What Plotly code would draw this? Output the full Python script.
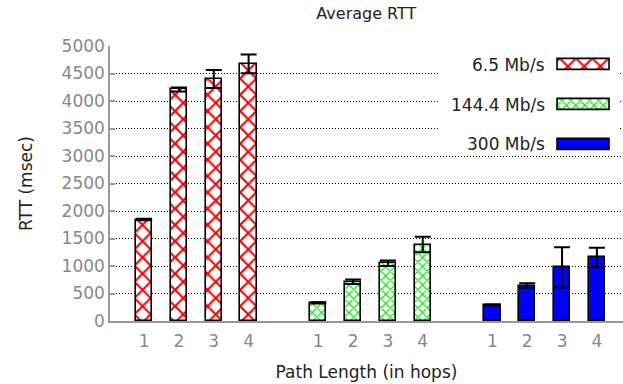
import plotly.graph_objects as go

hops = [1, 2, 3, 4]
rates = ["6.5 Mb/s", "144.4 Mb/s", "300 Mb/s"]
red_mean = [1845, 4210, 4400, 4675]
red_err = [15, 35, 165, 170]
green_mean = [330, 715, 1050, 1390]
green_err = [10, 40, 50, 140]
blue_mean = [290, 645, 975, 1155]
blue_err = [10, 40, 365, 177]
y_ticks = [0, 500, 1000, 1500, 2000, 2500, 3000, 3500, 4000, 4500, 5000]

means = [red_mean, green_mean, blue_mean]
errs = [red_err, green_err, blue_err]
styles = [
    dict(color="white", pattern=dict(shape="x", fgcolor="#ff0000", bgcolor="white", fgopacity=1,
                                     fillmode="replace", size=11.5, solidity=0.33)),
    dict(color="white", pattern=dict(shape="x", fgcolor="#00ee00", bgcolor="white", fgopacity=1,
                                     fillmode="replace", size=6.5, solidity=0.32)),
    dict(color="#0000ff"),
]

FONT = "DejaVu Sans"
fig = go.Figure()
tickvals, ticktext = [], []

# white key box (in the key's own subplot, so it covers the main grid)
fig.add_shape(type="rect", xref="x2 domain", yref="y2 domain", x0=0, x1=1, y0=0, y1=1,
              fillcolor="white", line=dict(width=0), layer="below")

for g in range(3):
    xs = [g * 5 + (h - 1) for h in hops]
    tickvals += xs
    ticktext += [str(h) for h in hops]
    fig.add_trace(go.Bar(
        x=xs, y=means[g], width=0.47,
        marker=dict(**styles[g], line=dict(color="black", width=1.6)),
        error_y=dict(type="data", array=errs[g], visible=True, color="black", thickness=2, width=8),
        showlegend=False, xaxis="x", yaxis="y",
    ))
    # key swatch (drawn on an auxiliary axis so the pattern fill shows)
    fig.add_trace(go.Bar(
        x=[1], y=[2 - g], base=[0], orientation="h", width=0.28,
        marker=dict(**styles[g], line=dict(color="black", width=1.6)),
        showlegend=False, xaxis="x2", yaxis="y2", hoverinfo="skip",
    ))
    fig.add_annotation(
        x=-0.2, xref="x2", y=2 - g, yref="y2", text=rates[g], showarrow=False,
        xanchor="right", yanchor="middle", font=dict(family=FONT, size=17, color="#222222"),
    )

fig.update_layout(
    width=623, height=384,
    margin=dict(l=110, r=0, t=46, b=63),
    paper_bgcolor="white", plot_bgcolor="white",
    font=dict(family=FONT, size=17, color="#222222"),
    title=dict(text="Average RTT", x=0.588, xanchor="center", y=0.966, yanchor="middle",
               font=dict(family=FONT, size=16, color="#222222")),
    bargap=0,
    xaxis=dict(
        range=[-0.98, 13.75], tickmode="array", tickvals=tickvals, ticktext=ticktext,
        showgrid=False, zeroline=False, showline=True, linecolor="#999999", linewidth=1.5,
        ticks="", ticklabelstandoff=4, tickfont=dict(family=FONT, size=17, color="#888888"),
        title=dict(text="Path Length (in hops)", standoff=16, font=dict(family=FONT, size=17, color="#222222")),
    ),
    yaxis=dict(
        range=[0, 5000], tickmode="array", tickvals=y_ticks,
        showgrid=True, gridcolor="black", griddash="1px,2px", gridwidth=1,
        zeroline=False, showline=True, linecolor="#999999", linewidth=1.5,
        ticks="inside", ticklen=5, tickcolor="#999999", tickwidth=1.5,
        tickfont=dict(family=FONT, size=17, color="#888888"),
        title=dict(text="RTT (msec)", standoff=25, font=dict(family=FONT, size=17, color="#222222")),
    ),
    xaxis2=dict(domain=[0.639, 0.992], range=[-2.294, 1.167], visible=False, fixedrange=True),
    yaxis2=dict(domain=[0.6145, 0.985], range=[-0.19, 2.374], visible=False, fixedrange=True),
)

fig.write_html("out.html")
